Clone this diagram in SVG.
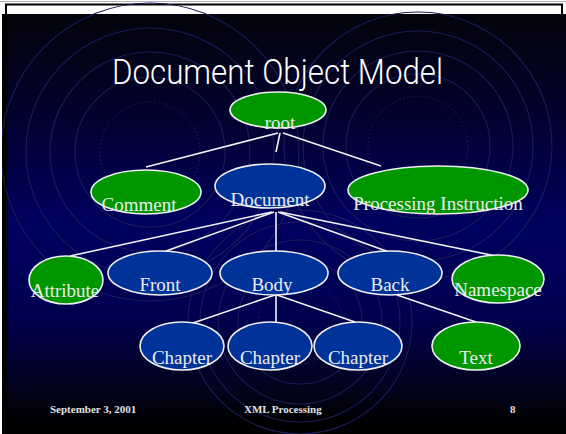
<svg xmlns="http://www.w3.org/2000/svg" width="566" height="434" viewBox="0 0 566 434">
<defs>
<linearGradient id="bg" x1="0" y1="0" x2="0" y2="1">
<stop offset="0" stop-color="#04040c"/>
<stop offset="0.2" stop-color="#020226"/>
<stop offset="0.5" stop-color="#000060"/>
<stop offset="0.72" stop-color="#000050"/>
<stop offset="0.9" stop-color="#03031a"/>
<stop offset="0.96" stop-color="#000004"/>
<stop offset="1" stop-color="#000000"/>
</linearGradient>
<clipPath id="cl"><rect x="2" y="2" width="564" height="432"/></clipPath>
</defs>
<style>
.deco{fill:none;stroke:#1c1c5a;stroke-width:1.1}
.dot{fill:none;stroke:#24246a;stroke-width:1;stroke-dasharray:1.5 2.5}
.g ellipse{fill:#009600;stroke:#f0f0f0;stroke-width:1.6}
.b ellipse{fill:#003399;stroke:#f0f0f0;stroke-width:1.6}
.n text{font-family:"Liberation Serif","Times New Roman",serif;font-size:19px;fill:#ececec;text-anchor:middle}
.ln line{stroke:#f2f2f2;stroke-width:1.6}
.ft{font-family:"Liberation Serif","Times New Roman",serif;font-size:11px;font-weight:bold;fill:#e0e0e0}
</style>
<rect width="566" height="434" fill="#ffffff"/>
<line x1="0" y1="1.5" x2="566" y2="1.5" stroke="#b0b0b0" stroke-width="1"/>
<rect x="6" y="4.5" width="556" height="12" fill="#ffffff" stroke="#000000" stroke-width="2"/>
<rect x="2" y="14" width="564" height="420" fill="url(#bg)"/>
<rect x="2" y="14" width="5" height="420" fill="#000000"/>
<g id="decor" clip-path="url(#cl)">
<circle class="dot" cx="150" cy="152" r="50"/>
<circle class="deco" cx="150" cy="152" r="75"/>
<circle class="deco" cx="150" cy="152" r="100"/>
<circle class="deco" cx="150" cy="152" r="124"/>
<circle class="deco" cx="150" cy="152" r="149"/>
<circle class="dot" cx="418" cy="146" r="50"/>
<circle class="deco" cx="418" cy="146" r="72"/>
<circle class="deco" cx="418" cy="146" r="95"/>
<circle class="deco" cx="418" cy="146" r="115"/>
<circle class="deco" cx="418" cy="146" r="134"/>
<circle class="dot" cx="300" cy="322" r="42"/>
<circle class="deco" cx="300" cy="322" r="62"/>
<circle class="deco" cx="300" cy="322" r="82"/>
<circle class="deco" cx="300" cy="322" r="100"/>
<circle class="deco" cx="300" cy="322" r="112"/>
</g>
<text x="112" y="84" font-family="Roboto,'Liberation Sans Narrow','Liberation Sans',sans-serif" font-weight="300" font-size="35" fill="#ffffff" textLength="331" lengthAdjust="spacingAndGlyphs">Document Object Model</text>
<g id="connectors" class="ln">
<line x1="278" y1="133" x2="146" y2="167"/>
<line x1="280" y1="133" x2="276" y2="152"/>
<line x1="283" y1="133" x2="381" y2="166"/>
<line x1="272" y1="212" x2="70" y2="256"/>
<line x1="274" y1="212" x2="166" y2="251"/>
<line x1="276" y1="212" x2="276" y2="252"/>
<line x1="278" y1="212" x2="389" y2="252"/>
<line x1="280" y1="212" x2="496" y2="256"/>
<line x1="275" y1="295" x2="193" y2="323"/>
<line x1="276" y1="295" x2="276" y2="322"/>
<line x1="277" y1="295" x2="355" y2="322"/>
<line x1="397" y1="295" x2="476" y2="322"/>
</g>
<g id="root" class="n g"><ellipse cx="278" cy="110" rx="48" ry="18"/><text x="280" y="129">root</text></g>
<g id="comment" class="n g"><ellipse cx="146" cy="192" rx="55" ry="22"/><text x="139" y="211">Comment</text></g>
<g id="document" class="n b"><ellipse cx="270" cy="186" rx="55" ry="22"/><text x="270" y="206">Document</text></g>
<g id="pi" class="n g"><ellipse cx="438" cy="190" rx="90" ry="24"/><text x="438" y="210">Processing Instruction</text></g>
<g id="attribute" class="n g"><ellipse cx="66" cy="280" rx="37" ry="24"/><text x="65" y="297">Attribute</text></g>
<g id="front" class="n b"><ellipse cx="160" cy="273" rx="52" ry="22"/><text x="160" y="291">Front</text></g>
<g id="body" class="n b"><ellipse cx="274" cy="273" rx="54" ry="22"/><text x="272" y="291">Body</text></g>
<g id="back" class="n b"><ellipse cx="390" cy="273" rx="52" ry="22"/><text x="390" y="291">Back</text></g>
<g id="namespace" class="n g"><ellipse cx="498" cy="279" rx="46" ry="24"/><text x="498" y="296">Namespace</text></g>
<g id="chapter1" class="n b"><ellipse cx="182" cy="346" rx="42" ry="24"/><text x="182" y="364">Chapter</text></g>
<g id="chapter2" class="n b"><ellipse cx="270" cy="346" rx="42" ry="24"/><text x="270" y="364">Chapter</text></g>
<g id="chapter3" class="n b"><ellipse cx="358" cy="346" rx="44" ry="24"/><text x="358" y="364">Chapter</text></g>
<g id="text" class="n g"><ellipse cx="476" cy="346" rx="44" ry="24"/><text x="476" y="364">Text</text></g>
<text class="ft" x="50" y="413">September 3, 2001</text>
<text class="ft" x="244" y="413">XML Processing</text>
<text class="ft" x="510" y="413">8</text>
</svg>
